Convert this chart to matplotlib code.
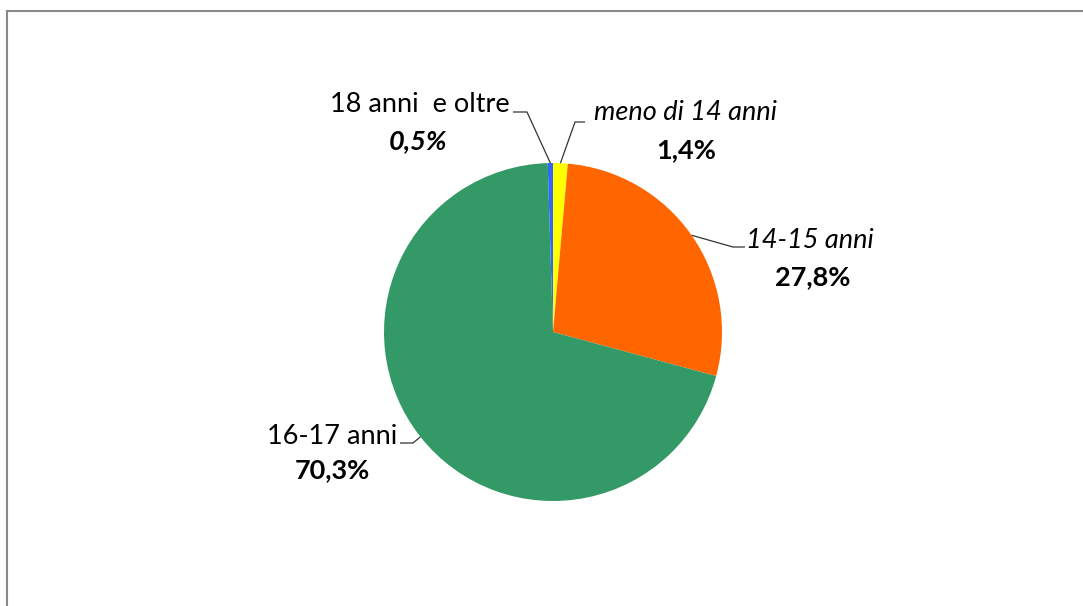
import numpy as np
import matplotlib
matplotlib.use("Agg")
import matplotlib.pyplot as plt
from matplotlib.lines import Line2D

categories = ["meno di 14 anni", "14-15 anni", "16-17 anni", "18 anni  e oltre"]
values = [1.4, 27.8, 70.3, 0.5]
pct_labels = ["1,4%", "27,8%", "70,3%", "0,5%"]
colors = ["#FFFF00", "#FF6600", "#339966", "#3366FF"]

W, H = 1083, 606
fig = plt.figure(figsize=(W / 100, H / 100), dpi=100)
fig.patch.set_facecolor("white")
ax = fig.add_axes([0, 0, 1, 1])

cx, cy, R = 553, H - 332, 169
wedges, _ = ax.pie(values, colors=colors, startangle=90, counterclock=False,
                   center=(cx, cy), radius=R, frame=True,
                   wedgeprops=dict(linewidth=0))
ax.set_xlim(0, W)
ax.set_ylim(0, H)
ax.set_aspect("equal")
ax.axis("off")

# frame lines (top and left)
fig.add_artist(Line2D([7 / W, 1], [1 - 11 / H, 1 - 11 / H], color="#8a8a8a", lw=1.5))
fig.add_artist(Line2D([7 / W, 7 / W], [0, 1 - 11 / H], color="#8a8a8a", lw=1.5))

font = "Lato"
fs = 19.5
# label layout: (name_xy, pct_xy, elbow, line_end, name_style, pct_style)
layout = {
    "meno di 14 anni": ((686, 113), (686, 150), (575, 122), (585, 122), "italic", "normal"),
    "14-15 anni": ((810, 240), (813, 277), (733, 247), (745, 247), "italic", "normal"),
    "16-17 anni": ((332, 436), (332, 470), (413, 443), (400, 443), "normal", "normal"),
    "18 anni  e oltre": ((420, 104), (418, 141), (527, 112), (513, 112), "normal", "italic"),
}

for w, cat, pct in zip(wedges, categories, pct_labels):
    mid = np.deg2rad((w.theta1 + w.theta2) / 2)
    sx, sy = cx + R * np.cos(mid), cy + R * np.sin(mid)
    (nx, ny), (px, py), (ex, ey), (lx, ly), nstyle, pstyle = layout[cat]
    ax.plot([sx, ex, lx], [sy, H - ey, H - ly], color="#333333", lw=0.9,
            solid_capstyle="butt")
    ax.text(nx, H - ny, cat, ha="center", va="center", fontsize=fs,
            family=font, style=nstyle, color="#000000")
    ax.text(px, H - py, pct, ha="center", va="center", fontsize=fs,
            family=font, style=pstyle, weight="bold", color="#000000")

fig.savefig("out.png", dpi=100, facecolor="white")
